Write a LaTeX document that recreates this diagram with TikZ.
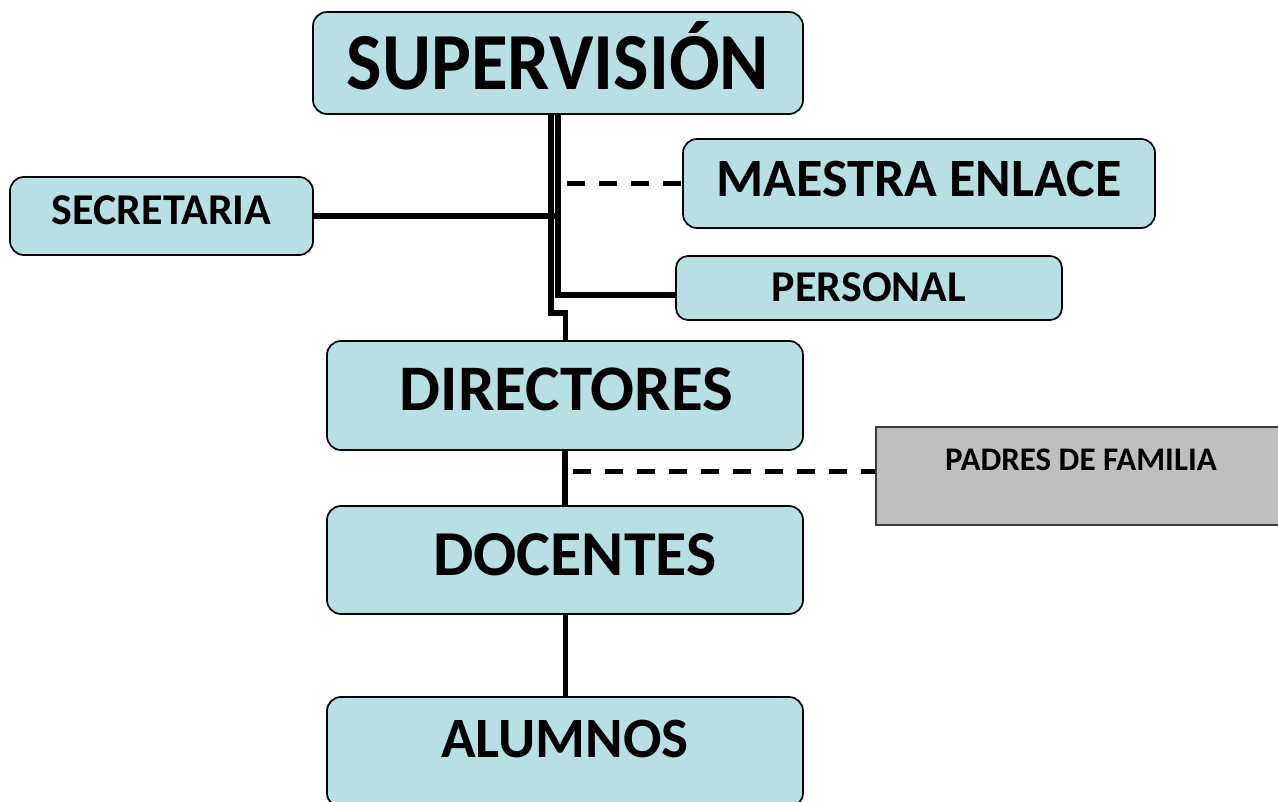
\documentclass[tikz,border=0pt]{standalone}
\usepackage{fontspec}
\setmainfont{Carlito}
\definecolor{boxblue}{RGB}{184,224,227}
\definecolor{boxgray}{RGB}{191,191,191}
\definecolor{graybord}{RGB}{60,60,60}
\newcommand{\fs}[1]{\fontsize{#1}{#1}\selectfont}
\begin{document}
\begin{tikzpicture}[x=1pt,y=-1pt,
  box/.style={draw=black, line width=1.7pt, fill=boxblue, rounded corners=14pt, inner sep=0pt},
  txt/.style={anchor=base, inner sep=0pt},
  conn/.style={line width=5.3pt},
  dconn/.style={line width=5.3pt, dash pattern=on 18pt off 14pt}]
\useasboundingbox (0,0) rectangle (1278,802);
\begin{scope}
\clip (0,0) rectangle (1278,802);
\node[box, minimum width=490pt, minimum height=102pt] (sup) at (558,63) {};
\node[box, minimum width=472pt, minimum height=89pt] (maes) at (919,183.5) {};
\node[box, minimum width=303pt, minimum height=78pt] (sec) at (161.5,216) {};
\node[box, rounded corners=12pt, minimum width=386pt, minimum height=64pt] (pers) at (869,288) {};
\node[box, minimum width=476pt, minimum height=109pt] (dir) at (565,395.5) {};
\node[draw=graybord, line width=1.5pt, fill=boxgray, minimum width=414pt, minimum height=98pt, inner sep=0pt] (padres) at (1083,476) {};
\node[box, minimum width=476pt, minimum height=108pt] (doc) at (565,560) {};
\node[box, minimum width=476pt, minimum height=110pt] (alu) at (565,752) {};
\end{scope}
\node[txt, font=\bfseries\fs{75}] (supt) at ([yshift=-27pt]sup.center) {\scalebox{1}[1.08]{SUPERVISIÓN}};
\node[txt, font=\bfseries\fs{54}] (maest) at ([yshift=-13.2pt]maes.center) {MAESTRA ENLACE};
\node[txt, font=\bfseries\fs{44}] (sect) at ([yshift=-9pt]sec.center) {SECRETARIA};
\node[txt, font=\bfseries\fs{44}] (perst) at ([yshift=-13.7pt]pers.center) {PERSONAL};
\node[txt, font=\bfseries\fs{65}] (dirt) at ([yshift=-14.5pt, xshift=1.5pt]dir.center) {DIRECTORES};
\node[txt, font=\bfseries\fs{33}] (padrest) at ([yshift=6pt, xshift=-2pt]padres.center) {PADRES DE FAMILIA};
\node[txt, font=\bfseries\fs{64}] (doct) at ([yshift=-15pt, xshift=10pt]doc.center) {DOCENTES};
\node[txt, font=\bfseries\fs{57}] (alut) at ([yshift=-5pt]alu.center) {ALUMNOS};
\coordinate (xL) at (551,0);
\coordinate (xR) at (558,0);
\coordinate (xM) at (565.5,0);
\coordinate (xD) at (567,0);
\coordinate (xP) at (573,0);
% double line from SUPERVISION
\draw[conn] (sup.south -| xL) -- (551,313) -| (dir.north -| xM);
\draw[conn] (sup.south -| xR) |- ([yshift=-7pt]pers.west);
\draw[conn] (sec.east) -- (sec.east -| xR);
\draw[dconn] (maes.west -| xD) -- (maes.west);
\draw[conn] (dir) -- (doc);
\draw[dconn] ([yshift=4.5pt]padres.west -| xP) -- ([yshift=4.5pt]padres.west);
\draw[conn] (doc.south -| xM) -- (alu.north -| xM);
\end{tikzpicture}
\end{document}
